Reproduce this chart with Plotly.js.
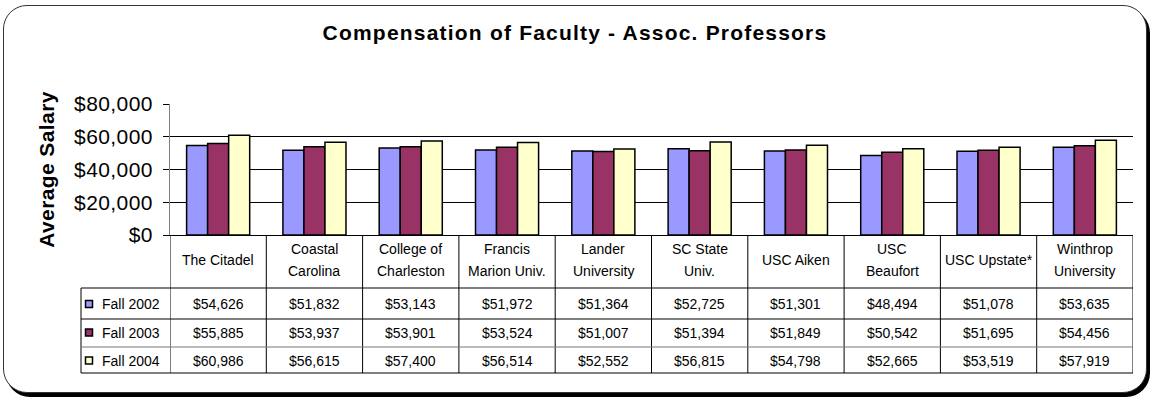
<!DOCTYPE html>
<html>
<head>
<meta charset="utf-8">
<script src="https://cdn.plot.ly/plotly-3.0.1.min.js"></script>
<style>
  html, body { margin: 0; padding: 0; background: #ffffff; }
  #wrap { position: relative; width: 1153px; height: 400px; overflow: hidden; }
  #frame { position: absolute; left: 3px; top: 5px; width: 1142px; height: 386px;
           border: 1.5px solid #333; border-radius: 24px; box-shadow: 3px 4px 0 #000; background: #fff; }
  #chart { position: absolute; left: 0; top: 0; width: 1153px; height: 400px; }
  #chart .gtitle { letter-spacing: 1.2px; }
  #chart .ytick text { letter-spacing: 0.4px; }
  #chart .g-ytitle text { letter-spacing: 0.4px; }
</style>
</head>
<body>
<div id="wrap"><div id="frame"></div><div id="chart"></div></div>
<script>
// ---- data ----
const categories = ["The Citadel", "Coastal Carolina", "College of Charleston", "Francis Marion Univ.",
  "Lander University", "SC State Univ.", "USC Aiken", "USC Beaufort", "USC Upstate*", "Winthrop University"];
const categoryLabels = [["The Citadel"], ["Coastal", "Carolina"], ["College of", "Charleston"],
  ["Francis", "Marion Univ."], ["Lander", "University"], ["SC State", "Univ."], ["USC Aiken"],
  ["USC", "Beaufort"], ["USC Upstate*"], ["Winthrop", "University"]];
const seriesNames = ["Fall 2002", "Fall 2003", "Fall 2004"];
const fall2002 = [54626, 51832, 53143, 51972, 51364, 52725, 51301, 48494, 51078, 53635];
const fall2003 = [55885, 53937, 53901, 53524, 51007, 51394, 51849, 50542, 51695, 54456];
const fall2004 = [60986, 56615, 57400, 56514, 52552, 56815, 54798, 52665, 53519, 57919];
const yTickVals = [0, 20000, 40000, 60000, 80000];
const yTickText = ["$0", "$20,000", "$40,000", "$60,000", "$80,000"];
const chartTitle = "Compensation of Faculty - Assoc. Professors";
const yTitle = "Average Salary";

// ---- style ----
const colors = ["#9999FF", "#993366", "#FFFFCC"];
const FONT = "Liberation Sans, Arial, sans-serif";
const W = 1153, H = 400;
const M = { l: 170, r: 20, t: 104, b: 165 };
const plotW = W - M.l - M.r, plotH = H - M.t - M.b;
const px2x = p => (p - M.l) / plotW;
const px2y = p => (H - M.b - p) / plotH;

const seriesData = [fall2002, fall2003, fall2004];
const traces = seriesData.map((vals, i) => ({
  type: "bar", x: categories, y: vals, name: seriesNames[i],
  marker: { color: colors[i], line: { color: "#000", width: 1.5 } },
  hoverinfo: "skip"
}));

const fmt = v => "$" + v.toLocaleString("en-US");

const shapes = [];
const annotations = [];
const tableLeft = px2x(81);
const rowLines = [288, 319, 347, 373];
const rowCenters = [304, 332.5, 360.5];
const tableBottom = px2y(373);
const TABLE_FONT = { family: FONT, size: 14, color: "#000" };

// vertical column lines (category boundaries)
for (let i = 0; i <= categories.length; i++) {
  shapes.push({ type: "line", xref: "x", yref: "paper", x0: i - 0.5, x1: i - 0.5,
    y0: 0, y1: tableBottom, line: { color: "#000", width: 1 } });
}
// left border of data rows
shapes.push({ type: "line", xref: "paper", yref: "paper", x0: tableLeft, x1: tableLeft,
  y0: px2y(288), y1: tableBottom, line: { color: "#000", width: 1 } });
// horizontal row lines
rowLines.forEach((p, k) => {
  shapes.push({ type: "line", xref: "paper", yref: "paper", x0: tableLeft, x1: 1,
    y0: px2y(p), y1: px2y(p), line: { color: k === 2 ? "#777" : "#000", width: 1 } });
});

// header labels
categoryLabels.forEach((lines, i) => {
  const ys = lines.length === 1 ? [260] : [249, 271];
  lines.forEach((t, j) => {
    annotations.push({ xref: "x", yref: "paper", x: i, y: px2y(ys[j]), text: t, showarrow: false,
      xanchor: "center", yanchor: "middle", font: TABLE_FONT });
  });
});

// data rows
seriesData.forEach((vals, r) => {
  const yc = px2y(rowCenters[r]);
  // legend key
  shapes.push({ type: "rect", xref: "paper", yref: "paper", x0: px2x(85.5), x1: px2x(92.5),
    y0: yc + 3.5 / plotH, y1: yc - 3.5 / plotH, fillcolor: colors[r], line: { color: "#000", width: 1.5 } });
  annotations.push({ xref: "paper", yref: "paper", x: px2x(100), y: yc, text: seriesNames[r],
    showarrow: false, xanchor: "left", yanchor: "middle", font: TABLE_FONT });
  vals.forEach((v, i) => {
    annotations.push({ xref: "x", yref: "paper", x: i, y: yc, text: fmt(v), showarrow: false,
      xanchor: "center", yanchor: "middle", font: TABLE_FONT });
  });
});

const layout = {
  width: W, height: H,
  margin: M,
  paper_bgcolor: "rgba(0,0,0,0)",
  plot_bgcolor: "rgba(0,0,0,0)",
  showlegend: false,
  barmode: "group", bargap: 0.345, bargroupgap: 0,
  title: { text: chartTitle, x: 575 / W, xanchor: "center", y: 1 - 33 / H, yanchor: "middle",
    font: { family: FONT, size: 21, color: "#000", weight: "bold" } },
  xaxis: { type: "category", range: [-0.5, categories.length - 0.5], showticklabels: false,
    ticks: "", showgrid: false, showline: true, linecolor: "#000", linewidth: 1, zeroline: false, fixedrange: true },
  yaxis: { range: [0, 80000], tickvals: yTickVals, ticktext: yTickText, ticks: "outside", ticklen: 6,
    tickcolor: "#000", showgrid: true, gridcolor: "#000", gridwidth: 1, showline: true, linecolor: "#808080",
    linewidth: 1, zeroline: false, ticklabelstandoff: 6,
    tickfont: { family: FONT, size: 21, color: "#000" },
    title: { text: yTitle, standoff: 16, font: { family: FONT, size: 21, color: "#000", weight: "bold" } },
    automargin: false, fixedrange: true },
  shapes: shapes,
  annotations: annotations
};

Plotly.newPlot("chart", traces, layout, { displayModeBar: false, staticPlot: true });
</script>
</body>
</html>
